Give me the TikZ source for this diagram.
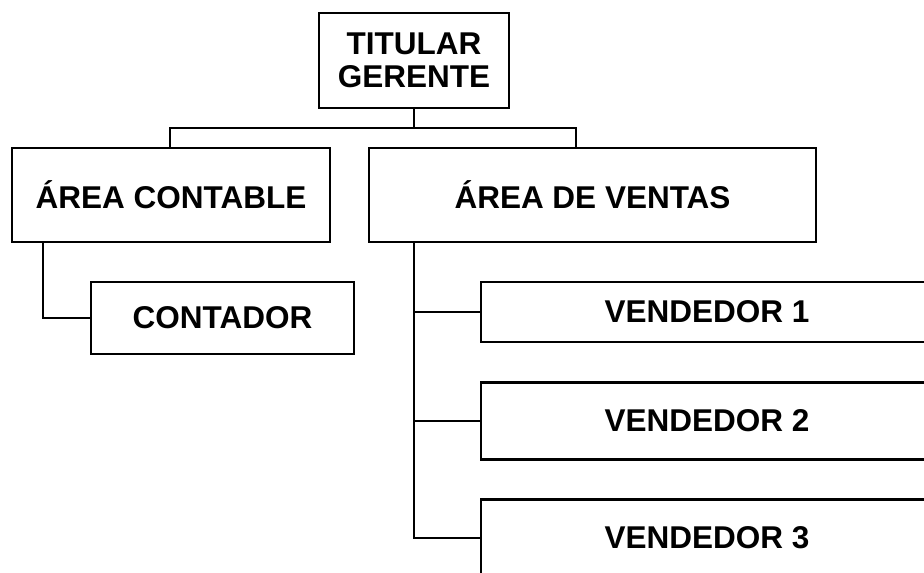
\documentclass[tikz,border=0pt]{standalone}
\usepackage{fontspec}
\setmainfont{Liberation Sans}
\begin{document}
\begin{tikzpicture}[x=1pt,y=-1pt,
  box/.style={draw,line width=2.2pt,rectangle,inner sep=0pt,align=center,
    font=\fontsize{31.5}{33.5}\selectfont\bfseries},
  link/.style={line width=2.2pt}]
\clip (0,0) rectangle (924,573);
\node[box,minimum width=190pt,minimum height=95pt] (tit) at (414,60.5) {TITULAR\\GERENTE};
\node[box,minimum width=318pt,minimum height=94pt] (ac) at (171,195) {ÁREA CONTABLE};
\node[box,minimum width=263pt,minimum height=72pt] (cont) at (222.5,318) {CONTADOR};
\node[box,minimum width=447pt,minimum height=94pt] (av) at (592.5,195) {ÁREA DE VENTAS};
\node[box,minimum width=452pt,minimum height=60pt] (v1) at (707,312) {VENDEDOR 1};
\node[box,minimum width=452pt,minimum height=77pt] (v2) at (707,421) {VENDEDOR 2};
\node[box,minimum width=452pt,minimum height=77pt] (v3) at (707,538) {VENDEDOR 3};
\coordinate (bus) at (414,128);
\draw[link] (tit.south) -- (bus);
\draw[link] ([xshift=-1pt]ac.north) |- (bus) -| ([xshift=-16.5pt]av.north);
\draw[link] ([xshift=-128pt]ac.south) |- (cont.west);
\coordinate (trunk) at ([xshift=-178.5pt]av.south);
\draw[link] (trunk) |- (v3.west);
\draw[link] (trunk |- v1.west) -- (v1.west);
\draw[link] (trunk |- v2.west) -- (v2.west);
\end{tikzpicture}
\end{document}
